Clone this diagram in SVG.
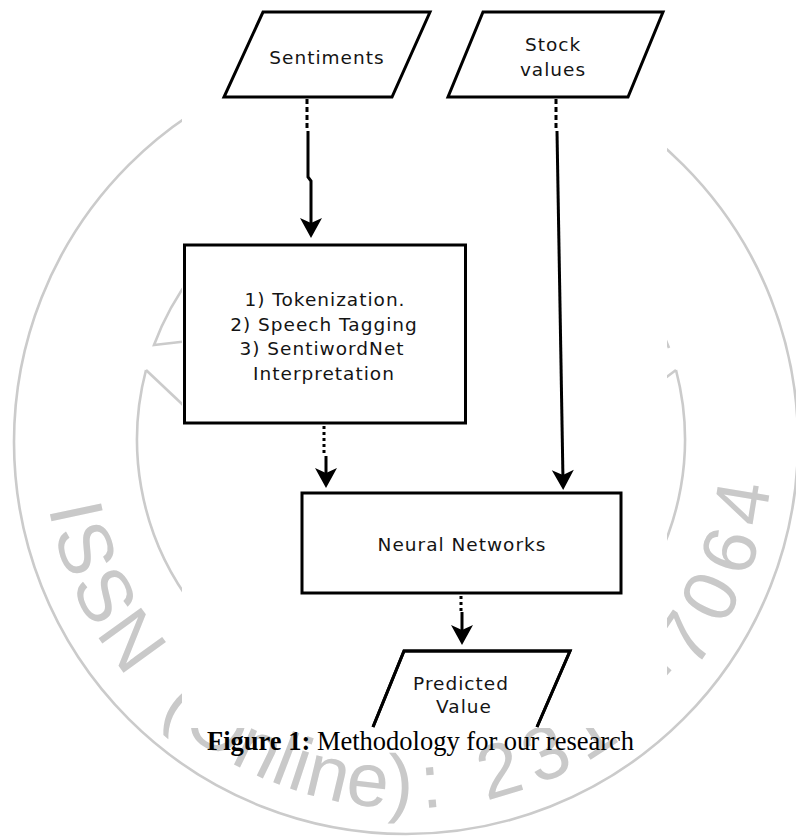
<svg xmlns="http://www.w3.org/2000/svg" width="796" height="836" viewBox="0 0 796 836">
<style>
.wm{fill:none;stroke:#cbcbcb;stroke-width:2.6}
.wmt{font-family:"Liberation Sans",Arial,sans-serif;font-size:76px;fill:#c9c9c9}
.shape{fill:#ffffff;stroke:#000000;stroke-width:3}
.open{fill:none;stroke:#000000;stroke-width:3}
.lbl{font-family:"DejaVu Sans",Verdana,sans-serif;font-size:18.5px;letter-spacing:1px;fill:#141414;text-anchor:middle}
.dot{fill:none;stroke:#000000;stroke-width:3;stroke-dasharray:5 3}
.dot2{fill:none;stroke:#000000;stroke-width:3;stroke-dasharray:3 3}
.solid{fill:none;stroke:#000000;stroke-width:3;marker-end:url(#arr)}
.cap{font-family:"Liberation Serif","Times New Roman",serif;font-size:26.5px;fill:#000000}
</style>
<defs>
<marker id="arr" viewBox="-11 -12 22 24" refX="0" refY="0" markerWidth="22" markerHeight="24" orient="auto" markerUnits="userSpaceOnUse">
<path d="M10,0 L-10,-11 L-5,0 L-10,11 Z" fill="#000000"/>
</marker>
<path id="wmpath" d="M44.4,411.2 A365,365 0 1 0 771.6,411.2"/>
</defs>
<rect x="0" y="0" width="796" height="836" fill="#ffffff"/>
<g id="watermark">
<circle class="wm" cx="406" cy="442" r="392"/>
<path class="wm" d="M669,348 A274,274 0 0 0 154,345 L215,338"/>
<path class="wm" d="M146,370 A274,274 0 1 0 676,370"/>
<path class="wm" d="M146,370 L200,421"/>
<path class="wm" d="M676,370 L660,382"/>
<text class="wmt"><textPath href="#wmpath" startOffset="96.5"><tspan letter-spacing="4">ISSN </tspan><tspan dx="17.3" letter-spacing="1">(Online)</tspan><tspan dx="8.7" letter-spacing="11">: 2319-7064</tspan></textPath></text>
</g>
<rect x="182" y="0" width="485" height="728" fill="#ffffff"/>
<g id="sentiments">
<polygon class="shape" points="263,12 430,12 392,97 224,97"/>
<text class="lbl" x="327" y="64">Sentiments</text>
</g>
<g id="stock-values">
<polygon class="shape" points="483,12 663,12 628,97 448,97"/>
<text class="lbl" x="553" y="51">Stock</text>
<text class="lbl" x="553" y="76">values</text>
</g>
<g id="processing">
<rect class="shape" x="184.5" y="245" width="281" height="178"/>
<text class="lbl" x="325" y="306">1) Tokenization.</text>
<text class="lbl" x="324" y="330.5">2) Speech Tagging</text>
<text class="lbl" x="322" y="355">3) SentiwordNet</text>
<text class="lbl" x="324" y="379.5">Interpretation</text>
</g>
<g id="neural-networks">
<rect class="shape" x="302" y="493" width="319" height="100"/>
<text class="lbl" x="462" y="551">Neural Networks</text>
</g>
<g id="predicted-value">
<path class="shape" d="M373,727 L404,651 L570,651 L537,727"/>
<path class="open" d="M373,727 L404,651 L570,651 L537,727"/>
<text class="lbl" x="461" y="690">Predicted</text>
<text class="lbl" x="464" y="713">Value</text>
</g>
<g id="connectors">
<path class="dot" d="M307,99 V130"/>
<path class="solid" d="M308,131 L308,177 L311,181 L311,228"/>
<path class="dot" d="M556,99 V130"/>
<path class="solid" d="M557,131 L563,480"/>
<path class="dot2" d="M324,426 V455"/>
<path class="solid" d="M326,456 V478"/>
<path class="dot2" d="M461,596 V612"/>
<path class="solid" d="M462,612 V635"/>
</g>
<text class="cap" x="207" y="750"><tspan font-weight="bold">Figure 1:</tspan> Methodology for our research</text>
</svg>
